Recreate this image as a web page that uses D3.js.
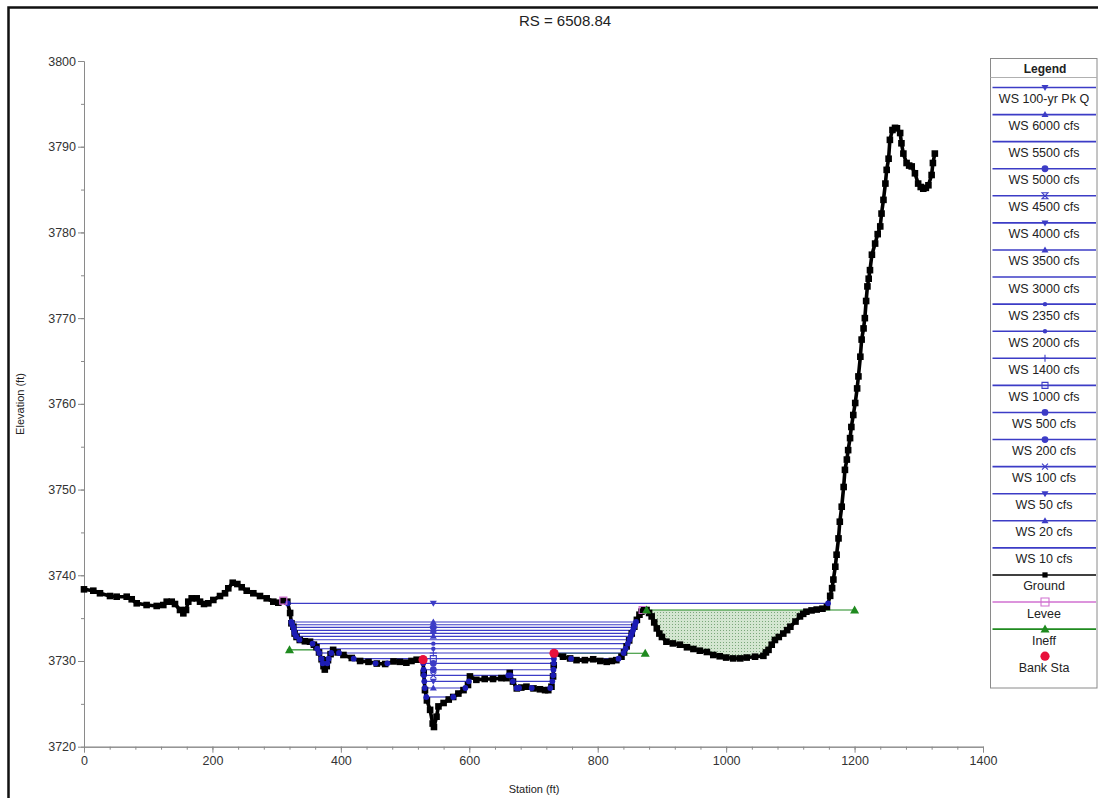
<!DOCTYPE html>
<html>
<head>
<meta charset="utf-8">
<script src="https://cdn.jsdelivr.net/npm/d3@7"></script>
<style>
  html, body { margin: 0; padding: 0; background: #fff; }
  svg { display: block; font-family: 'Liberation Sans', Arial, sans-serif; }
</style>
</head>
<body>
<script>
var WIDTH = 1098
  , HEIGHT = 798
  , WS_COLOR = '#3c3cc6'
  , CENTER_STA = 544

// ground profile
var groundSta = [
    0, 14.5, 24.9, 40.5, 50.9, 66.5, 74.3, 82.1, 97.5, 113.2
  , 123.5, 128.8, 136.6, 141.7, 149.5, 154.7, 158.9, 162.4, 167.7, 175.5
  , 180.7, 186.9, 193.6, 201.4, 211.8, 219.6, 224.7, 231.6, 238.8, 245.6
  , 253.4, 263.7, 274.1, 284.5, 294.8, 302.6, 310.4, 316.6, 321, 323
  , 326, 328, 331, 336, 344, 352, 358, 362, 366, 370
  , 373, 375, 378, 380, 384, 388, 395, 404, 417, 430
  , 443, 456, 469, 482, 492, 502, 510, 518, 528, 529
  , 531, 534, 539, 543, 545, 549, 552, 560, 568, 575
  , 583, 591, 598, 601, 611, 624, 637, 650, 658, 663
  , 668, 674, 681, 689, 700, 710, 718, 723, 728, 730.5
  , 731.5, 732, 746, 757, 767, 780, 793, 804, 814, 822
  , 829, 837, 841, 845, 849, 853, 857, 861, 865, 868
  , 872, 876, 880, 884, 888, 892, 896, 900, 907, 917
  , 928, 939, 949, 959, 970, 980, 990, 1000, 1011, 1022
  , 1032, 1045, 1058, 1062, 1066, 1071, 1076, 1082, 1089, 1095
  , 1100, 1108, 1115, 1120, 1125, 1133, 1141, 1150, 1157, 1162
  , 1165, 1167, 1170, 1172, 1175, 1177, 1180, 1183, 1185, 1188
  , 1190, 1193, 1195, 1198, 1201, 1204, 1206, 1209, 1211, 1214
  , 1216, 1218, 1220, 1222, 1224, 1227, 1232, 1236, 1240, 1242
  , 1245, 1248, 1250, 1253, 1255, 1259, 1263, 1266, 1271, 1273
  , 1276, 1281, 1285, 1289, 1294, 1299, 1303, 1307, 1311, 1315
  , 1320, 1322, 1325
]
  , groundElev = [
    3738.36, 3738.2, 3737.9, 3737.58, 3737.5, 3737.5, 3737.2, 3736.73, 3736.53, 3736.42
  , 3736.53, 3736.92, 3736.92, 3736.65, 3735.95, 3735.56, 3735.95, 3736.92, 3737.31, 3737.31
  , 3736.92, 3736.65, 3736.73, 3737.12, 3737.58, 3737.9, 3738.48, 3739.13, 3738.98, 3738.6
  , 3738.2, 3737.9, 3737.58, 3737.31, 3736.92, 3736.8, 3737.04, 3736.92, 3735.6, 3734.4
  , 3734.0, 3733.2, 3732.8, 3732.45, 3732.3, 3732.25, 3731.9, 3731.6, 3731.0, 3730.2
  , 3729.4, 3729.0, 3729.4, 3730.1, 3730.8, 3731.3, 3731.0, 3730.7, 3730.35, 3730.0
  , 3729.9, 3729.7, 3729.65, 3729.95, 3729.9, 3729.8, 3730.0, 3730.15, 3730.15, 3728.6
  , 3726.6, 3725.4, 3724.3, 3722.7, 3722.3, 3723.5, 3724.7, 3725.1, 3725.5, 3725.8
  , 3726.2, 3726.6, 3727.2, 3728.2, 3727.8, 3727.9, 3727.9, 3728.0, 3728.0, 3728.6
  , 3727.6, 3726.8, 3726.9, 3727.0, 3726.8, 3726.7, 3726.6, 3726.6, 3727.0, 3728.2
  , 3729.5, 3730.9, 3730.5, 3730.3, 3730.1, 3730.1, 3730.2, 3730.0, 3729.9, 3730.0
  , 3730.1, 3730.5, 3731.0, 3731.7, 3732.4, 3733.2, 3734.0, 3734.8, 3735.4, 3735.75
  , 3735.95, 3735.95, 3735.6, 3735.2, 3734.5, 3733.8, 3733.2, 3732.8, 3732.25, 3732.05
  , 3731.9, 3731.6, 3731.4, 3731.2, 3731.05, 3730.7, 3730.55, 3730.4, 3730.3, 3730.3
  , 3730.4, 3730.5, 3730.6, 3731.0, 3731.3, 3731.9, 3732.45, 3732.8, 3733.2, 3733.6
  , 3734.0, 3734.6, 3735.2, 3735.5, 3735.75, 3735.9, 3736.0, 3736.1, 3736.3, 3737.6
  , 3738.5, 3739.5, 3741.0, 3742.4, 3744.3, 3746.25, 3748.0, 3750.3, 3752.3, 3753.5
  , 3754.6, 3756.0, 3757.3, 3758.7, 3760.1, 3761.8, 3763.2, 3765.5, 3767.5, 3768.8
  , 3770.0, 3772.0, 3773.7, 3774.6, 3775.6, 3777.4, 3778.7, 3779.8, 3780.7, 3782.2
  , 3783.8, 3785.7, 3787.3, 3788.6, 3790.8, 3791.95, 3792.2, 3792.15, 3791.6, 3790.4
  , 3789.2, 3788.1, 3787.8, 3787.7, 3786.9, 3785.7, 3785.3, 3785.1, 3785.2, 3785.5
  , 3786.7, 3788.1, 3789.2
]

// water surface profiles
var wsNames = [
    'WS 100-yr Pk Q', 'WS 6000 cfs', 'WS 5500 cfs', 'WS 5000 cfs', 'WS 4500 cfs'
  , 'WS 4000 cfs', 'WS 3500 cfs', 'WS 3000 cfs', 'WS 2350 cfs', 'WS 2000 cfs'
  , 'WS 1400 cfs', 'WS 1000 cfs', 'WS 500 cfs', 'WS 200 cfs', 'WS 100 cfs'
  , 'WS 50 cfs', 'WS 20 cfs', 'WS 10 cfs'
]
  , wsElev = [
    3736.73, 3734.55, 3734.23, 3733.93, 3733.58
  , 3733.23, 3732.88, 3732.48, 3732.02, 3731.43
  , 3730.93, 3730.27, 3729.73, 3728.98, 3728.33
  , 3727.63, 3726.85, 3725.8
]
  , wsMarker = [
    'down', 'up', 'none', 'circle', 'bowtie'
  , 'down', 'up', 'none', 'dot', 'dot'
  , 'plus', 'square', 'circle', 'circle', 'x'
  , 'down', 'up', 'none'
]

var leveeSta = [310.4, 870]
  , leveeElev = [3737.04, 3735.95]

var bankSta = [528, 732]
  , bankElev = [3730.15, 3730.9]

var ineffFrom = [316, 732, 876]
  , ineffTo = [357, 874, 1200]
  , ineffElev = [3731.3, 3730.9, 3735.95]
  , ineffMarkSta = [320, 874, 876, 1200]
  , ineffMarkElev = [3731.3, 3730.9, 3735.95, 3735.95]

var xTicks = [0, 200, 400, 600, 800, 1000, 1200, 1400]
  , yTicks = [3720, 3730, 3740, 3750, 3760, 3770, 3780, 3790, 3800]
  , xMinor = d3.range(0, 1401, 40)
  , yMinor = d3.range(3720, 3801, 5)

var x = d3.scaleLinear().domain([0, 1400]).range([84, 983])
  , y = d3.scaleLinear().domain([3720, 3800]).range([746.7, 61])

var svg = d3.select('body')
  .append('svg')
  .attr('width', WIDTH)
  .attr('height', HEIGHT)

var defs = svg.append('defs')
  , pattern = defs.append('pattern')
      .attr('id', 'ineff-dots')
      .attr('patternUnits', 'userSpaceOnUse')
      .attr('width', 3)
      .attr('height', 3)

pattern.append('rect').attr('width', 3).attr('height', 3).attr('fill', '#d4e6d1')
pattern.append('rect').attr('width', 1).attr('height', 1).attr('fill', '#7ba77b')

svg.append('rect')
  .attr('x', 8.5)
  .attr('y', 7.5)
  .attr('width', 1300)
  .attr('height', 1000)
  .attr('fill', 'none')
  .attr('stroke', '#111')
  .attr('stroke-width', 2.5)

svg.append('text')
  .attr('x', 565)
  .attr('y', 26)
  .attr('text-anchor', 'middle')
  .attr('font-size', '15px')
  .attr('fill', '#222')
  .text('RS = 6508.84')

drawAxes()
drawIneffArea()
drawIneffLines()
drawWaterSurfaces()
drawGround()
drawPoints()
drawLegend()

function drawAxes() {
  var plain = d3.format('d')

  svg.append('g')
    .attr('transform', 'translate(' + x(0) + ',0)')
    .call(d3.axisLeft(y).tickValues(yMinor).tickFormat('').tickSize(3).tickSizeOuter(0))

  svg.append('g')
    .attr('transform', 'translate(0,' + y(3720) + ')')
    .call(d3.axisBottom(x).tickValues(xMinor).tickFormat('').tickSize(3).tickSizeOuter(0))

  svg.append('g')
    .attr('transform', 'translate(' + x(0) + ',0)')
    .call(d3.axisLeft(y).tickValues(yTicks).tickFormat(plain)
      .tickSize(6).tickPadding(2).tickSizeOuter(0))

  svg.append('g')
    .attr('transform', 'translate(0,' + y(3720) + ')')
    .call(d3.axisBottom(x).tickValues(xTicks).tickFormat(plain)
      .tickSize(6).tickPadding(3).tickSizeOuter(0))

  svg.selectAll('.domain, .tick line').attr('stroke', '#8a8a8a')
  svg.selectAll('.tick text')
    .attr('fill', '#333')
    .attr('font-size', '12.5px')
    .attr('font-family', "'Liberation Sans', Arial, sans-serif")

  svg.append('text')
    .attr('transform', 'translate(24,404) rotate(-90)')
    .attr('text-anchor', 'middle')
    .attr('font-size', '11px')
    .attr('fill', '#222')
    .text('Elevation (ft)')

  svg.append('text')
    .attr('x', 534)
    .attr('y', 793)
    .attr('text-anchor', 'middle')
    .attr('font-size', '11px')
    .attr('fill', '#222')
    .text('Station (ft)')
}

function groundPoints() {
  return groundSta.map(function(s, i) {
    return {sta: s, elev: groundElev[i]}
  })
}

function drawIneffArea() {
  var top = ineffElev[2]
    , pts = groundPoints().filter(function(d) {
        return d.sta >= ineffFrom[2] && d.sta <= ineffTo[2]
      })

  var area = d3.area()
    .x(function(d) { return x(d.sta) })
    .y0(function(d) { return y(Math.min(d.elev, top)) })
    .y1(y(top))

  svg.append('path')
    .datum(pts)
    .attr('d', area)
    .attr('fill', 'url(#ineff-dots)')
}

function drawIneffLines() {
  svg.selectAll('.ineff-line')
    .data(ineffElev)
    .enter()
      .append('line')
      .attr('class', 'ineff-line')
      .attr('x1', function(d, i) { return x(ineffFrom[i]) })
      .attr('x2', function(d, i) { return x(ineffTo[i]) })
      .attr('y1', function(d) { return y(d) })
      .attr('y2', function(d) { return y(d) })
      .attr('stroke', '#1f8a1f')
      .attr('stroke-width', 1.2)
}

// stretches of ground lying under a water level, inside the levees
function wetRuns(level) {
  var lo = level < leveeElev[0] ? leveeSta[0] : 0
    , hi = level < leveeElev[1] ? leveeSta[1] : 1400
    , runs = []
    , start = null

  for(var i = 0, len = groundSta.length - 1; i < len; ++i) {
    var s0 = groundSta[i]
      , s1 = groundSta[i + 1]
      , e0 = groundElev[i]
      , e1 = groundElev[i + 1]

    if(s0 < lo || s1 > hi) {
      continue
    }

    if(e0 >= level && e1 < level) {
      start = s0 + (level - e0) / (e1 - e0) * (s1 - s0)
    }

    if(e0 < level && e1 >= level && start !== null) {
      runs.push([start, s0 + (level - e0) / (e1 - e0) * (s1 - s0)])
      start = null
    }
  }

  return runs
}

function drawWaterSurfaces() {
  var segs = []

  wsElev.forEach(function(level, i) {
    wetRuns(level).forEach(function(run) {
      segs.push({from: run[0], to: run[1], elev: level, idx: i})
    })
  })

  svg.append('g')
    .attr('class', 'ws')
    .selectAll('line')
    .data(segs)
    .enter()
      .append('line')
      .attr('x1', function(d) { return x(d.from) })
      .attr('x2', function(d) { return x(d.to) })
      .attr('y1', function(d) { return y(d.elev) })
      .attr('y2', function(d) { return y(d.elev) })
      .attr('stroke', WS_COLOR)
      .attr('stroke-width', 1.2)

  svg.__wsSegs = segs
}

function drawGround() {
  var pts = groundPoints()

  var line = d3.line()
    .x(function(d) { return x(d.sta) })
    .y(function(d) { return y(d.elev) })

  svg.append('path')
    .datum(pts)
    .attr('d', line)
    .attr('fill', 'none')
    .attr('stroke', '#000')
    .attr('stroke-width', 3.6)
    .attr('stroke-linejoin', 'round')
    .attr('stroke-linecap', 'round')

  svg.append('g')
    .selectAll('rect')
    .data(pts)
    .enter()
      .append('rect')
      .attr('x', function(d) { return x(d.sta) - 3.3 })
      .attr('y', function(d) { return y(d.elev) - 3.3 })
      .attr('width', 6.6)
      .attr('height', 6.6)
      .attr('fill', '#000')
}

function drawPoints() {
  var segs = svg.__wsSegs
    , ends = []

  segs.forEach(function(d) {
    ends.push({sta: d.from, elev: d.elev})
    ends.push({sta: d.to, elev: d.elev})
  })

  svg.append('g')
    .selectAll('circle')
    .data(ends)
    .enter()
      .append('circle')
      .attr('cx', function(d) { return x(d.sta) })
      .attr('cy', function(d) { return y(d.elev) })
      .attr('r', 2.9)
      .attr('fill', '#1c1cb4')

  svg.append('g')
    .selectAll('path')
    .data(wsElev)
    .enter()
      .append('path')
      .attr('transform', function(d) {
        return 'translate(' + x(CENTER_STA) + ',' + y(d) + ')'
      })
      .each(function(d, i) {
        styleMarker(d3.select(this), wsMarker[i], WS_COLOR)
      })

  svg.append('g')
    .selectAll('path')
    .data(leveeSta)
    .enter()
      .append('path')
      .attr('transform', function(d, i) {
        return 'translate(' + x(d) + ',' + y(leveeElev[i]) + ')'
      })
      .attr('d', 'M-3.5,-3.5h7v7h-7Z')
      .attr('fill', 'none')
      .attr('stroke', '#d070d0')
      .attr('stroke-width', 1.2)

  svg.append('g')
    .selectAll('circle')
    .data(bankSta)
    .enter()
      .append('circle')
      .attr('cx', function(d) { return x(d) })
      .attr('cy', function(d, i) { return y(bankElev[i]) })
      .attr('r', 4.6)
      .attr('fill', '#e8103a')

  svg.append('g')
    .selectAll('path')
    .data(ineffMarkSta)
    .enter()
      .append('path')
      .attr('transform', function(d, i) {
        return 'translate(' + x(d) + ',' + y(ineffMarkElev[i]) + ')'
      })
      .attr('d', markerPath('tri'))
      .attr('fill', '#1f8a1f')
}

function markerPath(type) {
  switch(type) {
    case 'down': return 'M-3.5,-2.5L3.5,-2.5L0,3.5Z'
    case 'up': return 'M-3.5,2.5L3.5,2.5L0,-3.5Z'
    case 'tri': return 'M-4.5,3.5L4.5,3.5L0,-4.5Z'
    case 'circle': return 'M3.4,0A3.4,3.4,0,1,1,-3.4,0A3.4,3.4,0,1,1,3.4,0Z'
    case 'dot': return 'M2.2,0A2.2,2.2,0,1,1,-2.2,0A2.2,2.2,0,1,1,2.2,0Z'
    case 'bowtie': return 'M-3,-3L3,-3L-3,3L3,3Z'
    case 'x': return 'M-3,-3L3,3M-3,3L3,-3'
    case 'plus': return 'M-3.5,0L3.5,0M0,-3.5L0,3.5'
    case 'square': return 'M-3,-3h6v6h-6Z'
  }
  return ''
}

function styleMarker(sel, type, color) {
  var open = type === 'x' || type === 'plus' || type === 'square' || type === 'bowtie'

  sel
    .attr('d', markerPath(type))
    .attr('fill', open ? 'none' : color)
    .attr('stroke', open ? color : 'none')
    .attr('stroke-width', 1.1)
}

function drawLegend() {
  var left = 990.5
    , right = 1097
    , mid = 1045
    , top = 58.5
    , step = 27.08
    , first = 87.5

  var items = wsNames.map(function(name, i) {
    return {name: name, color: WS_COLOR, marker: wsMarker[i], line: true}
  }).concat([
      {name: 'Ground', color: '#000', marker: 'ground', line: true}
    , {name: 'Levee', color: '#d070d0', marker: 'levee', line: true}
    , {name: 'Ineff', color: '#1f8a1f', marker: 'tri', line: true}
    , {name: 'Bank Sta', color: '#e8103a', marker: 'bank', line: false}
  ])

  var g = svg.append('g').attr('class', 'legend')

  g.append('rect')
    .attr('x', left)
    .attr('y', top)
    .attr('width', right - left)
    .attr('height', 688 - top)
    .attr('fill', '#fff')
    .attr('stroke', '#8a8a8a')

  g.append('line')
    .attr('x1', left)
    .attr('x2', right)
    .attr('y1', 77.5)
    .attr('y2', 77.5)
    .attr('stroke', '#b0b0b0')

  g.append('text')
    .attr('x', mid)
    .attr('y', 73)
    .attr('text-anchor', 'middle')
    .attr('font-size', '12px')
    .attr('font-weight', 'bold')
    .attr('fill', '#222')
    .text('Legend')

  var entry = g.selectAll('.entry')
    .data(items)
    .enter()
      .append('g')
      .attr('class', 'entry')
      .attr('transform', function(d, i) {
        return 'translate(0,' + (first + step * i) + ')'
      })

  entry.filter(function(d) { return d.line })
    .append('line')
    .attr('x1', left + 2)
    .attr('x2', right - 1)
    .attr('stroke', function(d) { return d.color })
    .attr('stroke-width', 1.6)

  entry.each(function(d) {
    var sel = d3.select(this)

    if(d.marker === 'ground') {
      sel.append('rect')
        .attr('x', mid - 2.6).attr('y', -2.6)
        .attr('width', 5.2).attr('height', 5.2)
        .attr('fill', '#000')
    } else if(d.marker === 'levee') {
      sel.append('path')
        .attr('transform', 'translate(' + mid + ',0)')
        .attr('d', 'M-4,-4h8v8h-8Z')
        .attr('fill', 'none')
        .attr('stroke', d.color)
        .attr('stroke-width', 1.1)
    } else if(d.marker === 'bank') {
      sel.append('circle')
        .attr('cx', mid).attr('cy', 0)
        .attr('r', 4.6)
        .attr('fill', d.color)
    } else if(d.marker === 'tri') {
      sel.append('path')
        .attr('transform', 'translate(' + mid + ',0)')
        .attr('d', markerPath('tri'))
        .attr('fill', d.color)
    } else if(d.marker !== 'none') {
      styleMarker(
        sel.append('path').attr('transform', 'translate(' + mid + ',0)')
        , d.marker
        , d.color
      )
    }
  })

  entry.append('text')
    .attr('x', mid - 1)
    .attr('y', 15.5)
    .attr('text-anchor', 'middle')
    .attr('font-size', '12.5px')
    .attr('fill', '#222')
    .text(function(d) { return d.name })
}
</script>
</body>
</html>
